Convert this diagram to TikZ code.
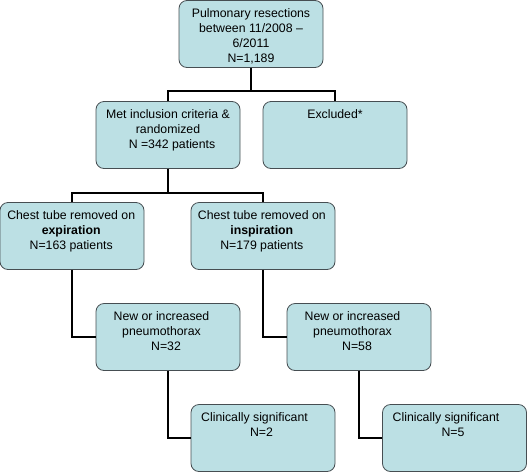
\documentclass[tikz,border=0pt]{standalone}
\usepackage{fontspec}
\setmainfont{Liberation Sans}
\definecolor{boxfill}{RGB}{188,224,228}
\definecolor{boxline}{RGB}{70,78,82}
\begin{document}
\begin{tikzpicture}[x=1pt,y=-1pt,
  flowbox/.style={rectangle, rounded corners=8pt, minimum width=144pt, minimum height=67pt,
    inner sep=0pt, fill=boxfill, draw=boxline, line width=0.8pt},
  boxtext/.style={anchor=north, inner sep=0pt, align=center,
    font=\fontsize{12.3}{15}\selectfont, yshift=-7.8pt},
  link/.style={draw=black, line width=2.3pt}]
\useasboundingbox (0,0) rectangle (527,472);

% boxes
\node[flowbox] (b1)   at (251,34)    {};
\node[flowbox] (met)  at (168,135)   {};
\node[flowbox] (exc)  at (335,135)   {};
\node[flowbox] (exp)  at (72,236)    {};
\node[flowbox] (insp) at (263,236)   {};
\node[flowbox] (pn1)  at (168,337)   {};
\node[flowbox] (pn2)  at (359,337)   {};
\node[flowbox] (cl1)  at (263,438)   {};
\node[flowbox] (cl2)  at (454.5,438) {};

% texts
\node[boxtext] (tb1) at (b1.north) {Pulmonary resections\\between 11/2008 –\\6/2011\\N=1,189};
\node[boxtext] (tmet) at (met.north) {Met inclusion criteria \&\\randomized\\\kern8pt N =342 patients};
\node[boxtext] (texc) at (exc.north) {Excluded*};
\node[boxtext, xshift=-0.8pt] (texp) at (exp.north) {Chest tube removed on\\\textbf{expiration}\\N=163 patients};
\node[boxtext, xshift=-1.2pt] (tinsp) at (insp.north) {Chest tube removed on\\\textbf{inspiration}\\N=179 patients};
\node[boxtext, xshift=-6.5pt] (tpn1) at (pn1.north) {New or increased\\pneumothorax\\\kern9pt N=32};
\node[boxtext, xshift=-6.5pt] (tpn2) at (pn2.north) {New or increased\\pneumothorax\\\kern9pt N=58};
\node[boxtext, xshift=-8.5pt] (tcl1) at (cl1.north) {Clinically significant\\\kern14pt N=2};
\node[boxtext, xshift=-8.5pt] (tcl2) at (cl2.north) {Clinically significant\\\kern14pt N=5};

% connectors
\coordinate (j1) at (251,91);
\coordinate (j2) at (168,193);
\draw[link] (b1.south) -- (j1);
\draw[link] (met.north) |- (j1) -| (exc.north);
\draw[link] (met.south) -- (j2);
\draw[link] (exp.north) |- (j2) -| (insp.north);
\draw[link] (exp.south) |- (pn1.west);
\draw[link] (insp.south) |- (pn2.west);
\draw[link] (pn1.south) |- (cl1.west);
\draw[link] (pn2.south) |- (cl2.west);
\end{tikzpicture}
\end{document}
